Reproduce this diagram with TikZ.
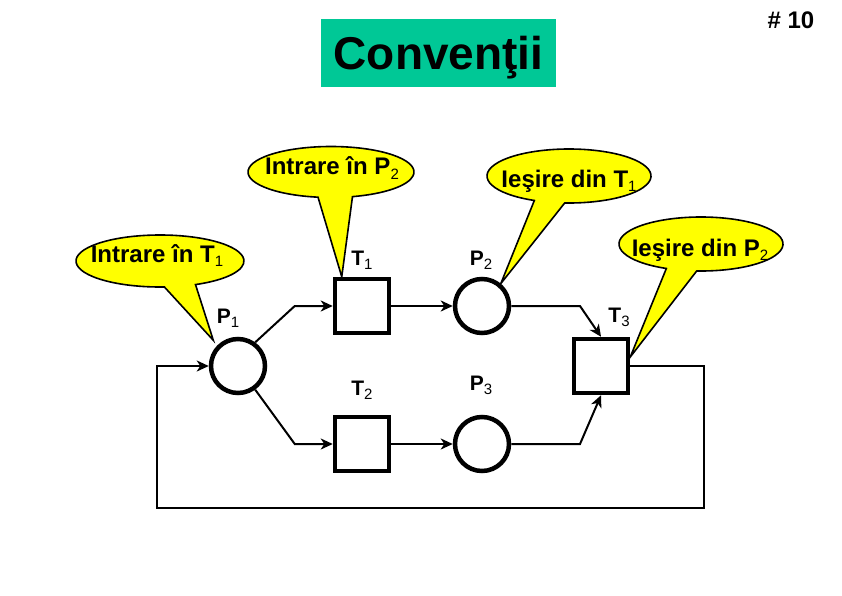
\documentclass[tikz,border=0pt]{standalone}
\usepackage{fontspec}
\setmainfont{Liberation Sans}
\usepackage{tikz}
\usetikzlibrary{arrows.meta,positioning,calc}
\definecolor{titlegreen}{HTML}{00C896}
\definecolor{bubblefill}{HTML}{FFFF00}
\newcommand{\idx}[1]{\raisebox{-4.5pt}{\fontsize{15}{15}\selectfont\mdseries #1}}

\begin{document}
\begin{tikzpicture}[x=1pt, y=-1pt,
  place/.style={circle, draw, line width=4.5pt, minimum size=54pt, inner sep=0pt},
  trans/.style={rectangle, draw, line width=4.5pt, minimum size=54pt, inner sep=0pt},
  lbl/.style={anchor=base, inner sep=0pt, font=\fontsize{21}{21}\selectfont\bfseries},
  arr/.style={-{Stealth[length=12pt, width=11pt, inset=3.5pt]}, line width=2pt},
  bubble/.style={fill=bubblefill, draw=black, line width=1.6pt},
  btext/.style={anchor=base, inner sep=0pt, font=\fontsize{24}{24}\selectfont\bfseries}
]
\useasboundingbox (0,0) rectangle (842,596);

% titlu
\node[fill=titlegreen, minimum width=235pt, minimum height=68pt, text depth=0pt, font=\fontsize{46}{46}\selectfont\bfseries] (title) at (438.5,53) {Convenţii};
\node[anchor=base, inner sep=0pt, font=\fontsize{24}{24}\selectfont\bfseries] (nr) at (791,29) {\# 10};

% pozitii si tranzitii
\node[place] (P1) at (238,366) {};
\node[trans] (T1) at (362,306) {};
\node[place] (P2) at (482,306) {};
\node[trans] (T2) at (362,444) {};
\node[place] (P3) at (482,444) {};
\node[trans] (T3) at (601,366) {};

\node[lbl] (lP1) at (228,323) {P\idx{1}};
\node[lbl] (lT1) at (362,265) {T\idx{1}};
\node[lbl] (lP2) at (481,265) {P\idx{2}};
\node[lbl] (lT2) at (362,395) {T\idx{2}};
\node[lbl] (lP3) at (481,390) {P\idx{3}};
\node[lbl] (lT3) at (619,322) {T\idx{3}};

% arce
\draw[arr] (P1.54) -- ([xshift=-38pt]T1.west) -- (T1.west);
\draw[arr] (P1.-54) -- ([xshift=-38pt]T2.west) -- (T2.west);
\draw[arr] (T1) -- (P2);
\draw[arr] (T2) -- (P3);
\draw[arr] (P2.east) -- ($(P2.east -| T3.north)+(-21,0)$) -- (T3.north);
\draw[arr] (P3.east) -- ($(P3.east -| T3.south)+(-21,0)$) -- (T3.south);
\draw[arr] (T3.east) -- ++(74,0) -- ++(0,142) -| ([xshift=-52pt]P1.west) -- (P1.west);

% baloane
\draw[bubble] ($(331,172)+(99:83 and 25.5)$) arc[start angle=99, end angle=435, x radius=83, y radius=25.5] -- ([xshift=9pt]T1.north west) -- cycle;
\node[btext] (cP2) at (332,175) {Intrare în P\idx{2}};

\draw[bubble] ($(160,261)+(87:84 and 26)$) arc[start angle=87, end angle=425, x radius=84, y radius=26] -- ([shift={(-4,-5)}]P1.135) -- cycle;
\node[btext] (cT1) at (157,262) {Intrare în T\idx{1}};

\draw[bubble] ($(569,176)+(115:82 and 27)$) arc[start angle=115, end angle=453, x radius=82, y radius=27] -- (P2.50) -- cycle;
\node[btext] (oT1) at (569,187) {Ieşire din T\idx{1}};

\draw[bubble] ($(701,244)+(115:82 and 27)$) arc[start angle=115, end angle=453, x radius=82, y radius=27] -- ([yshift=9pt]T3.east) -- cycle;
\node[btext] (oP2) at (700,256) {Ieşire din P\idx{2}};
\end{tikzpicture}
\end{document}
